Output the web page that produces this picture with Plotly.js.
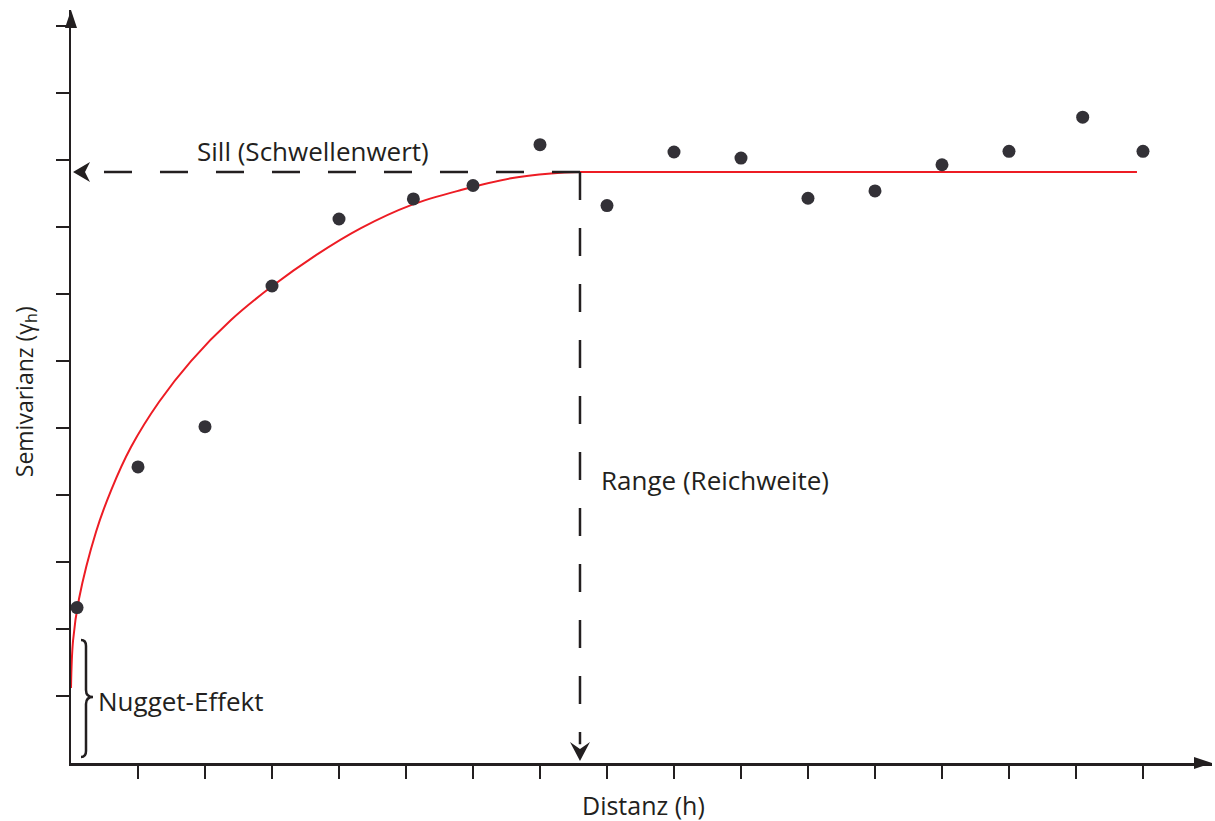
<!DOCTYPE html>
<html><head><meta charset="utf-8">
<script src="https://cdn.plot.ly/plotly-3.0.1.min.js"></script>
<style>html,body{margin:0;padding:0;background:#fff}#chart{width:1215px;height:821px}</style>
</head><body><div id="chart"></div>
<script>
// Empirical semivariogram (lag distance h, semivariance gamma(h)), unitless grid units
const lagDistance = [0.09, 1.0, 2.0, 3.0, 4.0, 5.11, 6.0, 7.0, 8.0, 9.0, 10.0, 11.0, 12.0, 13.0, 14.0, 15.1, 16.0];
const semivariance = [2.32, 4.42, 5.02, 7.12, 8.12, 8.42, 8.62, 9.23, 8.32, 9.12, 9.03, 8.43, 8.54, 8.93, 9.13, 9.64, 9.13];

// Fitted model curve
const modelDistance = [0, 0.030, 0.119, 0.373, 0.597, 0.896, 1.313, 1.791, 2.388, 2.985, 3.657, 4.328, 5.075,
  5.821, 6.567, 7.164, 7.597, 8.6, 15.91];
const modelSemivariance = [1.119, 1.821, 2.448, 3.448, 4.067, 4.716, 5.388, 6.000, 6.612, 7.104, 7.582, 7.985, 8.328,
  8.552, 8.727, 8.799, 8.821, 8.821, 8.821];

const nuggetValue = 1.119;
const sillValue = 8.821;
const rangeValue = 7.597;

const xTickValues = [1,2,3,4,5,6,7,8,9,10,11,12,13,14,15,16];
const yTickValues = [1,2,3,4,5,6,7,8,9,10,11];

const labelSill = 'Sill (Schwellenwert)';
const labelRange = 'Range (Reichweite)';
const labelNugget = 'Nugget-Effekt';
const labelX = 'Distanz (h)';
const labelY = 'Semivarianz (γ<sub>h</sub>)';

const ink = '#231f20';
const font = '"Open Sans", "Noto Sans", sans-serif';

const traces = [
  {x: modelDistance, y: modelSemivariance, type: 'scatter', mode: 'lines',
   line: {color: '#ed1c24', width: 2, shape: 'spline', smoothing: 1}, hoverinfo: 'skip'},
  {x: lagDistance, y: semivariance, type: 'scatter', mode: 'markers',
   marker: {color: '#333137', size: 13}, hoverinfo: 'skip'}
];

const axisBase = {showline: true, linecolor: ink, linewidth: 2.5, ticks: 'outside', ticklen: 13,
  tickwidth: 2, tickcolor: ink, showticklabels: false, showgrid: false, zeroline: false, fixedrange: true};

const shapes = [
  // sill dashed line
  {type: 'line', xref: 'x', yref: 'y', x0: rangeValue, y0: sillValue, x1: 0.38, y1: sillValue,
   line: {color: ink, width: 2.5, dash: '28px,28px'}, layer: 'above'},
  // range dashed line
  {type: 'line', xref: 'x', yref: 'y', x0: rangeValue, y0: sillValue, x1: rangeValue, y1: 0.28,
   line: {color: ink, width: 2.5, dash: '28px,28px'}, layer: 'above'},
  // arrowhead at y axis (sill)
  {type: 'path', xref: 'x', yref: 'y', xsizemode: 'pixel', ysizemode: 'pixel', xanchor: 0, yanchor: sillValue,
   path: 'M 2,0 L 19,10 L 14,0 L 19,-10 Z', fillcolor: ink, line: {width: 0}, layer: 'above'},
  // arrowhead at x axis (range)
  {type: 'path', xref: 'x', yref: 'y', xsizemode: 'pixel', ysizemode: 'pixel', xanchor: rangeValue, yanchor: 0,
   path: 'M 0,2 L -10,21 L 0,14 L 10,21 Z', fillcolor: ink, line: {width: 0}, layer: 'above'},
  // axis arrows
  {type: 'path', xref: 'paper', yref: 'paper', xsizemode: 'pixel', ysizemode: 'pixel', xanchor: 1, yanchor: 0,
   path: 'M 0,0 L -18,6 L -18,-6 Z', fillcolor: ink, line: {width: 0}, layer: 'above'},
  {type: 'path', xref: 'paper', yref: 'paper', xsizemode: 'pixel', ysizemode: 'pixel', xanchor: 0, yanchor: 1,
   path: 'M 0,0 L -6,-18 L 6,-18 Z', fillcolor: ink, line: {width: 0}, layer: 'above'},
  // nugget brace
  {type: 'path', xref: 'x', yref: 'y', xsizemode: 'pixel', ysizemode: 'pixel', xanchor: 0, yanchor: 0,
   path: 'M 10,123 Q 15,123 15,117 L 15,73 Q 15,66 22,66 Q 15,66 15,59 L 15,12 Q 15,6 10,6',
   line: {color: ink, width: 2.5}, layer: 'above'}
];

const annotations = [
  {text: labelSill, xref: 'x', yref: 'y', x: 3.61, y: 9.13, showarrow: false, xanchor: 'center', yanchor: 'middle',
   font: {family: font, size: 26, color: ink}},
  {text: labelRange, xref: 'x', yref: 'y', x: 7.88, y: 4.23, showarrow: false, xanchor: 'left', yanchor: 'middle',
   font: {family: font, size: 26, color: ink}},
  {text: labelNugget, xref: 'x', yref: 'y', x: 0.37, y: 0.93, showarrow: false, xanchor: 'left', yanchor: 'middle',
   font: {family: font, size: 26, color: ink}},
  {text: labelX, xref: 'x', yref: 'paper', x: 8.54, y: -0.056, showarrow: false, xanchor: 'center', yanchor: 'middle',
   font: {family: font, size: 25, color: ink}},
  {text: labelY, xref: 'paper', yref: 'y', x: -0.04, y: 5.54, showarrow: false, xanchor: 'center', yanchor: 'middle',
   textangle: -90, font: {family: font, size: 23, color: ink}}
];

const layout = {
  width: 1215, height: 821,
  margin: {l: 71, r: 3, t: 10, b: 58, pad: 0},
  paper_bgcolor: '#ffffff', plot_bgcolor: '#ffffff',
  showlegend: false,
  xaxis: Object.assign({range: [0, 17.03], tickvals: xTickValues}, axisBase),
  yaxis: Object.assign({range: [0, 11.24], tickvals: yTickValues}, axisBase),
  shapes: shapes,
  annotations: annotations
};

Plotly.newPlot('chart', traces, layout, {displayModeBar: false, staticPlot: true});
</script></body></html>
